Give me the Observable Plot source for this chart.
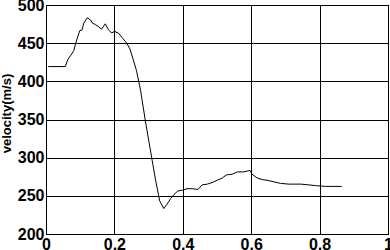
<!DOCTYPE html>
<html>
<head>
<meta charset="utf-8">
<script src="https://cdn.jsdelivr.net/npm/d3@7"></script>
<script src="https://cdn.jsdelivr.net/npm/@observablehq/plot@0.6"></script>
<style>
  html, body { margin: 0; padding: 0; background: #fff; }
  #chart svg { display: block; }
</style>
</head>
<body>
<div id="chart"></div>
<script>
const xs = [0.006,0.055,0.062,0.070,0.080,0.085,0.097,0.104,0.109,0.119,0.129,0.134,0.143,0.153,0.161,0.172,0.180,0.190,0.199,0.210,0.221,0.234,0.244,0.253,0.263,0.275,0.289,0.299,0.309,0.319,0.331,0.343,0.353,0.363,0.372,0.384,0.397,0.411,0.426,0.443,0.455,0.470,0.484,0.499,0.514,0.526,0.543,0.558,0.577,0.595,0.601,0.616,0.631,0.645,0.665,0.684,0.708,0.743,0.767,0.787,0.816,0.862];
const velocity = [420,420,429,434,441,450,467,468,477,484,481,477,475,472,469,476,469,464,466,464,458,451,443,430,415,389,349,323,297,271,244,234,240,247,252,257,258,260,260,259,265,266,268,271,274,278,279,282,282,284,279,274,272,271,269,267,266,266,265,264,263,263];
const xTicks = [0, 0.2, 0.4, 0.6, 0.8, 1];
const xTickLabels = ["0", "0.2", "0.4", "0.6", "0.8", "1"];
const yTicks = [200, 250, 300, 350, 400, 450, 500];
const yTickLabels = ["200", "250", "300", "350", "400", "450", "500"];
const yLabel = "velocity(m/s)";

const data = xs.map((x, i) => ({x, v: velocity[i]}));
const font = "'Liberation Sans', Arial, Helvetica, sans-serif";

const chart = Plot.plot({
  width: 390,
  height: 250,
  marginLeft: 46,
  marginRight: 2,
  marginTop: 5,
  marginBottom: 16,
  style: {fontFamily: font, background: "#fff", color: "#000"},
  x: {domain: [0, 1]},
  y: {domain: [200, 500]},
  marks: [
    Plot.gridX(xTicks, {stroke: "#000", strokeOpacity: 1, strokeWidth: 1, shapeRendering: "crispEdges"}),
    Plot.gridY(yTicks, {stroke: "#000", strokeOpacity: 1, strokeWidth: 1, shapeRendering: "crispEdges"}),
    Plot.frame({stroke: "#000", strokeWidth: 1, shapeRendering: "crispEdges"}),
    Plot.axisX(xTicks, {tickSize: 0, tickPadding: 4, fontSize: 16, fontWeight: "bold", label: null,
      tickFormat: (d) => xTickLabels[xTicks.indexOf(d)]}),
    Plot.axisY(yTicks, {tickSize: 0, tickPadding: 2, fontSize: 16, fontWeight: "bold", label: null,
      tickFormat: (d) => yTickLabels[yTicks.indexOf(d)]}),
    Plot.text([yLabel], {frameAnchor: "left", text: d => d, rotate: -90, dx: -45, dy: -6.5,
      lineAnchor: "top", textAnchor: "middle", fontSize: 13, fontWeight: "bold", fill: "#000"}),
    Plot.line(data, {x: "x", y: "v", stroke: "#000", strokeWidth: 1})
  ]
});
document.getElementById("chart").appendChild(chart);
</script>
</body>
</html>
